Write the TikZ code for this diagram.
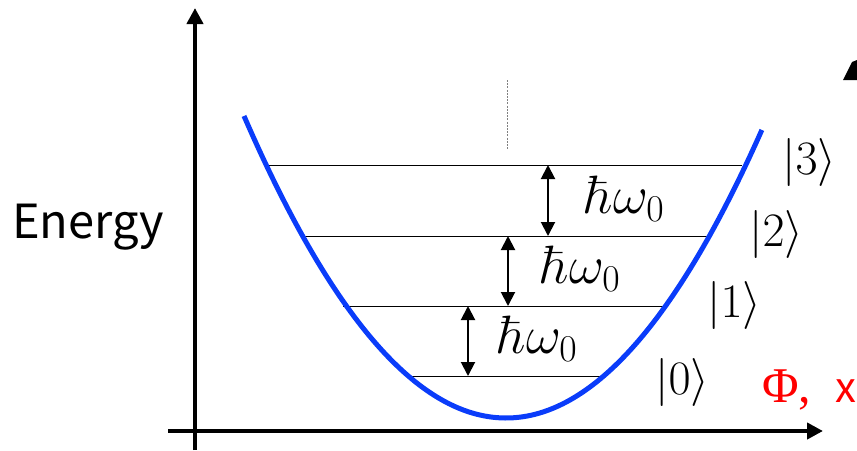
\RequirePackage{fix-cm}
\documentclass[tikz,border=0pt]{standalone}
\usepackage[no-math]{fontspec}
\newfontfamily\jpsans{Noto Sans CJK JP}
\newfontfamily\tmserif{Liberation Serif}
\usetikzlibrary{arrows.meta}
\definecolor{curveblue}{RGB}{10,60,250}
\tikzset{
  axis/.style={line width=4pt,-{Triangle[width=16pt,length=16pt]}},
  level/.style={line width=1pt,black},
  gap/.style={line width=2pt,{Triangle[width=14pt,length=14pt]}-{Triangle[width=14pt,length=14pt]}},
  ket/.style={inner sep=0pt,anchor=west,font=\fontsize{48}{50}\selectfont},
  hw/.style={inner sep=0pt,anchor=base west,font=\fontsize{54}{56}\selectfont},
}
\begin{document}
\begin{tikzpicture}[x=1pt,y=-1pt]
\useasboundingbox (0,0) rectangle (857,450);
% axes
\coordinate (ybot) at (195,450);
\coordinate (ytop) at (195,8);
\coordinate (xl) at (168,431);
\coordinate (xr) at (823,431);
\draw[axis] (ybot) -- (ytop);
\draw[axis] (xl) -- (xr);
% dotted guide
\coordinate (d1) at (507,80);
\coordinate (d2) at (507,150);
\draw[gray,line width=0.8pt,dash pattern=on 2pt off 1.2pt] (d1) -- (d2);
% levels
\coordinate (l0a) at (410,376); \coordinate (l0b) at (603,376);
\coordinate (l1a) at (343,306); \coordinate (l1b) at (665,306);
\coordinate (l2a) at (303,236); \coordinate (l2b) at (710,236);
\coordinate (l3a) at (268,165); \coordinate (l3b) at (742,165);
\draw[level] (l0a) -- (l0b);
\draw[level] (l1a) -- (l1b);
\draw[level] (l2a) -- (l2b);
\draw[level] (l3a) -- (l3b);
% parabola
\draw[curveblue,line width=5pt,domain=-2.62:2.56,samples=120,smooth] plot ({506+100*\x},{418-44*\x*\x});
% gap arrows
\coordinate (g0a) at (468,306); \coordinate (g0b) at (468,376);
\coordinate (g1a) at (508,236); \coordinate (g1b) at (508,306);
\coordinate (g2a) at (548,165); \coordinate (g2b) at (548,236);
\draw[gap] (g0a) -- (g0b);
\draw[gap] (g1a) -- (g1b);
\draw[gap] (g2a) -- (g2b);
\node[hw] (h0) at (498,353) {$\hbar\omega_0$};
\node[hw] (h1) at (541,283) {$\hbar\omega_0$};
\node[hw] (h2) at (585,213) {$\hbar\omega_0$};
% kets
\node[ket] (k0) at (655,382) {$|0\rangle$};
\node[ket] (k1) at (707,305) {$|1\rangle$};
\node[ket] (k2) at (749,234) {$|2\rangle$};
\node[ket] (k3) at (782,162) {$|3\rangle$};
% labels
\node[inner sep=0pt,anchor=base west,font=\jpsans\fontsize{47}{49}\selectfont] (en) at (12,238) {Energy};
\node[inner sep=0pt,anchor=base west,red] (phx) at (762,402) {{\tmserif\fontsize{50}{52}\selectfont Φ,}\hspace{24pt}{\jpsans\fontsize{42}{44}\selectfont x}};
% cropped arrowhead at top right
\fill[black] (843,80) -- (852,62) -- (857,60) -- (857,80) -- cycle;
\end{tikzpicture}
\end{document}
